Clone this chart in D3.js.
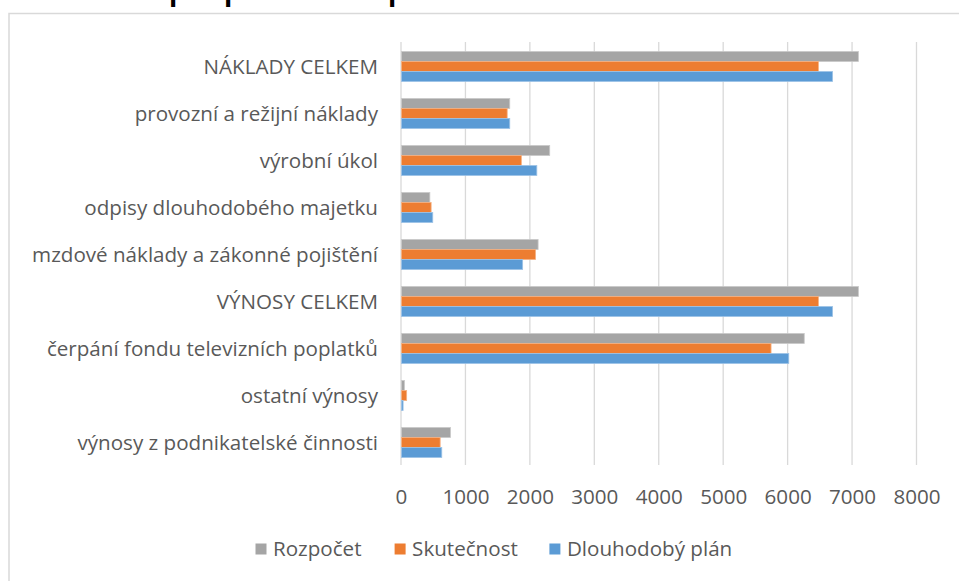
<!DOCTYPE html>
<html><head><meta charset="utf-8">
<script src="https://cdn.jsdelivr.net/npm/d3@7"></script>
<style>body{margin:0;background:#fff;} svg{display:block;}</style>
</head><body>
<svg id="c" width="959" height="581"></svg>
<script>
const categories = [
  "NÁKLADY CELKEM",
  "provozní a režijní náklady",
  "výrobní úkol",
  "odpisy dlouhodobého majetku",
  "mzdové náklady a zákonné pojištění",
  "VÝNOSY CELKEM",
  "čerpání fondu televizních poplatků",
  "ostatní výnosy",
  "výnosy z podnikatelské činnosti"
];
const seriesNames = ["Rozpočet", "Skutečnost", "Dlouhodobý plán"];
const rozpocet   = [7090, 1680, 2300, 440, 2120, 7090, 6250, 45, 760];
const skutecnost = [6470, 1640, 1860, 460, 2080, 6470, 5735, 80, 600];
const dlouhodoby = [6690, 1680, 2100, 485, 1880, 6690, 6010, 25, 625];
const xTicks = [0, 1000, 2000, 3000, 4000, 5000, 6000, 7000, 8000];
const titleFragments = ["p", "p", "p"];

const colors = ["#A5A5A5", "#ED7D31", "#5B9BD5"];
const strokes = ["#C9C9C9", "#F4B183", "#9DC3E6"];
const font = "'Open Sans', sans-serif";
const fs = 20.6;
const svg = d3.select("#c");

// cut-off title fragments above the chart (only descenders visible)
const fragX = [170, 225, 389];
svg.selectAll("text.frag").data(titleFragments).join("text")
  .attr("class","frag").attr("x",(d,i)=>fragX[i]-2).attr("y",-3)
  .attr("font-family","'Liberation Sans', sans-serif").attr("font-size",46).attr("fill","#000").text(d=>d);

// chart area border
svg.append("rect").attr("x",9).attr("y",13.5).attr("width",1200).attr("height",1200)
  .attr("fill","#fff").attr("stroke","#D9D9D9").attr("stroke-width",1.5);

const x = d3.scaleLinear().domain([0, 8000]).range([401, 916.5]);
const y = d3.scaleBand().domain(categories).range([43, 466]).paddingInner(0.36).paddingOuter(0.18);
const sub = d3.scaleBand().domain(seriesNames).range([0, y.bandwidth()]);

// gridlines
svg.append("g").selectAll("line").data(xTicks).join("line")
  .attr("x1",d=>x(d)).attr("x2",d=>x(d)).attr("y1",42).attr("y2",465)
  .attr("stroke","#D9D9D9").attr("stroke-width",1.3);

const seriesData = [rozpocet, skutecnost, dlouhodoby];
seriesData.forEach((vals, si) => {
  svg.append("g").selectAll("rect").data(vals).join("rect")
    .attr("x", x(0)+0.5)
    .attr("y", (d,i)=>y(categories[i]) + sub(seriesNames[si]))
    .attr("width", d=>x(d)-x(0))
    .attr("height", sub.bandwidth())
    .attr("fill", colors[si])
    .attr("stroke", strokes[si]).attr("stroke-width",0.8);
});

// category labels
svg.append("g").selectAll("text").data(categories).join("text")
  .attr("x", 378).attr("y", d=>y(d)+y.bandwidth()/2)
  .attr("dy","0.35em").attr("text-anchor","end")
  .attr("font-family",font).attr("font-size",fs).attr("fill","#595959").text(d=>d);

// x tick labels
const xAxis = d3.axisBottom(x).tickValues(xTicks).tickSize(0).tickPadding(0).tickFormat(d3.format("d"));
const ax = svg.append("g").attr("transform","translate(0,490)").call(xAxis);
ax.select(".domain").remove();
ax.selectAll("text").attr("font-family",font).attr("font-size",fs).attr("fill","#595959").attr("dy","0.35em").attr("y",7);

// legend
const legX = [255.5, 394.6, 549.4];
const lg = svg.append("g").selectAll("g").data(seriesNames).join("g")
  .attr("transform",(d,i)=>`translate(${legX[i]},549)`);
lg.append("rect").attr("x",0).attr("y",-5.5).attr("width",11).attr("height",11)
  .attr("fill",(d,i)=>colors[i]);
lg.append("text").attr("x",17.5).attr("y",0).attr("dy","0.35em")
  .attr("font-family",font).attr("font-size",fs).attr("fill","#595959").text(d=>d);
</script>
</body></html>
